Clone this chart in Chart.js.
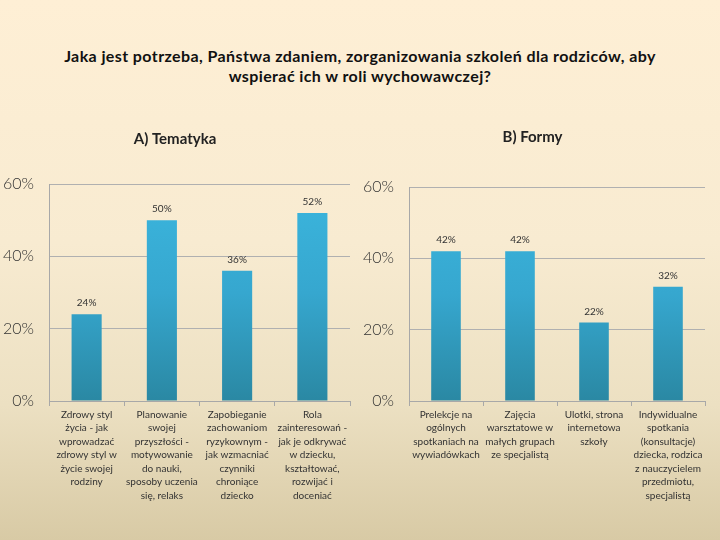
<!DOCTYPE html>
<html>
<head>
<meta charset="utf-8">
<script src="https://cdn.jsdelivr.net/npm/chart.js@4.4.1/dist/chart.umd.min.js"></script>
<style>
  html, body { margin: 0; padding: 0; }
  body {
    width: 720px; height: 540px; position: relative; overflow: hidden;
    background: linear-gradient(to bottom, #feefd5 0%, #f8ebd1 45%, #ece0c2 75%, #d8caa5 100%);
    font-family: Lato, "Open Sans", sans-serif;
  }
  #title {
    position: absolute; left: 0; top: 46px; width: 720px;
    text-align: center; font-weight: bold; font-size: 16px; letter-spacing: 0.4px;
    line-height: 20px; color: #111;
  }
  .box { position: absolute; top: 120px; width: 360px; height: 420px; }
</style>
</head>
<body>
<div id="title">Jaka jest potrzeba, Państwa zdaniem, zorganizowania szkoleń dla rodziców, aby<br>wspierać ich w roli wychowawczej?</div>
<div class="box" style="left:0"><canvas id="chartA"></canvas></div>
<div class="box" style="left:360px"><canvas id="chartB"></canvas></div>
<script>
// A) Tematyka
const tematykaLabels = [
  ['Zdrowy styl', 'życia - jak', 'wprowadzać', 'zdrowy styl w', 'życie swojej', 'rodziny'],
  ['Planowanie', 'swojej', 'przyszłości -', 'motywowanie', 'do nauki,', 'sposoby uczenia', 'się, relaks'],
  ['Zapobieganie', 'zachowaniom', 'ryzykownym -', 'jak wzmacniać', 'czynniki', 'chroniące', 'dziecko'],
  ['Rola', 'zainteresowań -', 'jak je odkrywać', 'w dziecku,', 'kształtować,', 'rozwijać i', 'doceniać']
];
const tematykaValues = [24, 50, 36, 52];

// B) Formy
const formyLabels = [
  ['Prelekcje na', 'ogólnych', 'spotkaniach na', 'wywiadówkach'],
  ['Zajęcia', 'warsztatowe w', 'małych grupach', 'ze specjalistą'],
  ['Ulotki, strona', 'internetowa', 'szkoły'],
  ['Indywidualne', 'spotkania', '(konsultacje)', 'dziecka, rodzica', 'z nauczycielem', 'przedmiotu,', 'specjalistą']
];
const formyValues = [42, 42, 22, 32];

const yTicks = [0, 20, 40, 60];

const valueLabels = {
  id: 'valueLabels',
  afterDatasetsDraw(chart) {
    const ctx = chart.ctx;
    const meta = chart.getDatasetMeta(0);
    ctx.save();
    ctx.font = '10px Lato, sans-serif';
    ctx.fillStyle = '#333';
    ctx.textAlign = 'center';
    ctx.textBaseline = 'bottom';
    meta.data.forEach((bar, i) => {
      ctx.fillText(chart.data.datasets[0].data[i] + '%', bar.x, bar.y - 6);
    });
    ctx.restore();
  }
};

function barFill(context) {
  const area = context.chart.chartArea;
  if (!area) return '#34a6cc';
  const g = context.chart.ctx.createLinearGradient(0, area.top, 0, area.bottom);
  g.addColorStop(0, '#3bb6de');
  g.addColorStop(0.5, '#36a7cf');
  g.addColorStop(1, '#2a88a3');
  return g;
}

function makeChart(id, title, labels, values, rightPad, titleTop, titleBottom) {
  return new Chart(document.getElementById(id), {
    type: 'bar',
    data: {
      labels: labels,
      datasets: [{
        data: values,
        backgroundColor: barFill,
        borderWidth: 0,
        barPercentage: 0.4,
        categoryPercentage: 1
      }]
    },
    plugins: [valueLabels],
    options: {
      responsive: false,
      animation: false,
      devicePixelRatio: 1,
      layout: { padding: { top: 4, right: rightPad, left: 0, bottom: 0 } },
      plugins: {
        legend: { display: false },
        tooltip: { enabled: false },
        title: {
          display: true,
          text: title,
          color: '#222',
          font: { family: 'Lato, sans-serif', size: 15, weight: 'bold' },
          padding: { top: titleTop, bottom: titleBottom }
        }
      },
      scales: {
        x: {
          grid: { display: true, offset: true, drawOnChartArea: false, drawTicks: true, tickLength: 5, color: '#a8a8a8' },
          border: { color: '#a8a8a8' },
          ticks: {
            color: '#333',
            font: { family: 'Lato, sans-serif', size: 10, lineHeight: 1.35 },
            padding: 2,
            maxRotation: 0,
            autoSkip: false
          },
          afterFit(scale) { scale.height = 139; }
        },
        y: {
          min: 0, max: 60,
          afterBuildTicks(scale) { scale.ticks = yTicks.map(v => ({ value: v })); },
          grid: { color: '#b0b0b0', drawTicks: false },
          border: { color: '#a8a8a8' },
          ticks: {
            color: '#333',
            font: { family: 'Lato, sans-serif', size: 16, weight: 300 },
            padding: 15,
            callback: v => v + '%'
          },
          afterFit(scale) { scale.width = 49; }
        }
      }
    }
  });
}

document.getElementById('chartA').width = 360;
document.getElementById('chartA').height = 420;
document.getElementById('chartB').width = 360;
document.getElementById('chartB').height = 420;

makeChart('chartA', 'A) Tematyka', tematykaLabels, tematykaValues, 10, 6, 36);
makeChart('chartB', 'B) Formy', formyLabels, formyValues, 15, 4, 41);
</script>
</body>
</html>
